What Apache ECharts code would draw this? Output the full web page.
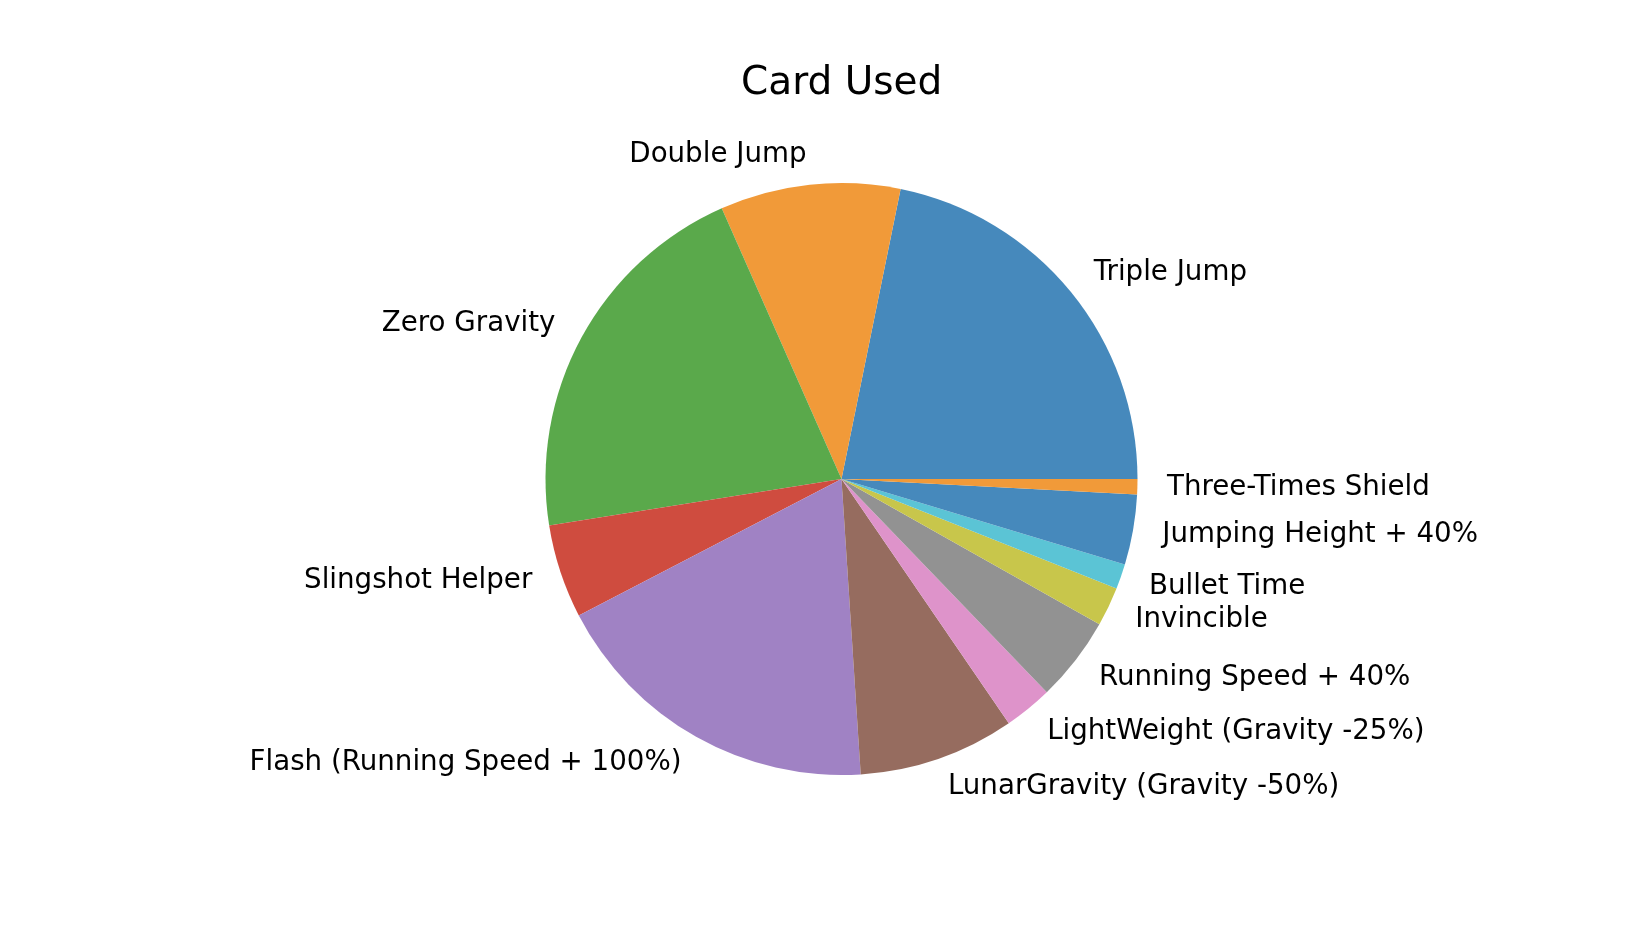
<!DOCTYPE html>
<html>
<head>
<meta charset="utf-8">
<script src="https://cdn.jsdelivr.net/npm/echarts@6/dist/echarts.min.js"></script>
<style>
  html, body { margin: 0; padding: 0; background: #fff; }
  #pieChart { width: 1634px; height: 952px; }
</style>
</head>
<body>
<div id="pieChart"></div>
<script>
// slice order follows the reference (counter-clockwise from 3 o'clock)
const cards = [
    'Triple Jump', 'Double Jump', 'Zero Gravity', 'Slingshot Helper',
    'Flash (Running Speed + 100%)', 'LunarGravity (Gravity -50%)',
    'LightWeight (Gravity -25%)', 'Running Speed + 40%', 'Invincible',
    'Bullet Time', 'Jumping Height + 40%', 'Three-Times Shield'
]
const used = [78.5, 35.4, 75.2, 18.4, 66.3, 30.7, 9.5, 16.7, 7.7, 4.9, 13.8, 3.0]
const colors = ['#4689bc', '#f19a39', '#5aa94b', '#cf4c3f', '#a082c4',
    '#966c5f', '#de93ca', '#929292', '#c8c64b', '#5bc4d5']

const radius = 296

const option = {
    animation: false,
    color: colors,
    title: {
        text: 'Card Used',
        left: 736,
        top: 59,
        textStyle: {
            fontFamily: 'DejaVu Sans',
            fontSize: 39,
            fontWeight: 'normal',
            color: '#000'
        }
    },
    series: [{
        type: 'pie',
        center: [841.5, 479],
        radius: radius,
        startAngle: 0,
        clockwise: false,
        avoidLabelOverlap: false,
        minShowLabelAngle: 0,
        itemStyle: { borderWidth: 0 },
        emphasis: { disabled: true },
        label: {
            show: true,
            position: 'outside',
            fontFamily: 'DejaVu Sans',
            fontSize: 27.7,
            color: '#000',
            padding: [4, 0, 0, 0],
            distanceToLabelLine: 0
        },
        labelLine: {
            show: false,
            length: radius * 0.1,
            length2: 0
        },
        data: cards.map((name, i) => ({ name: name, value: used[i] }))
    }]
}

const pieChart = echarts.init(document.getElementById('pieChart'))
pieChart.setOption(option)
</script>
</body>
</html>
